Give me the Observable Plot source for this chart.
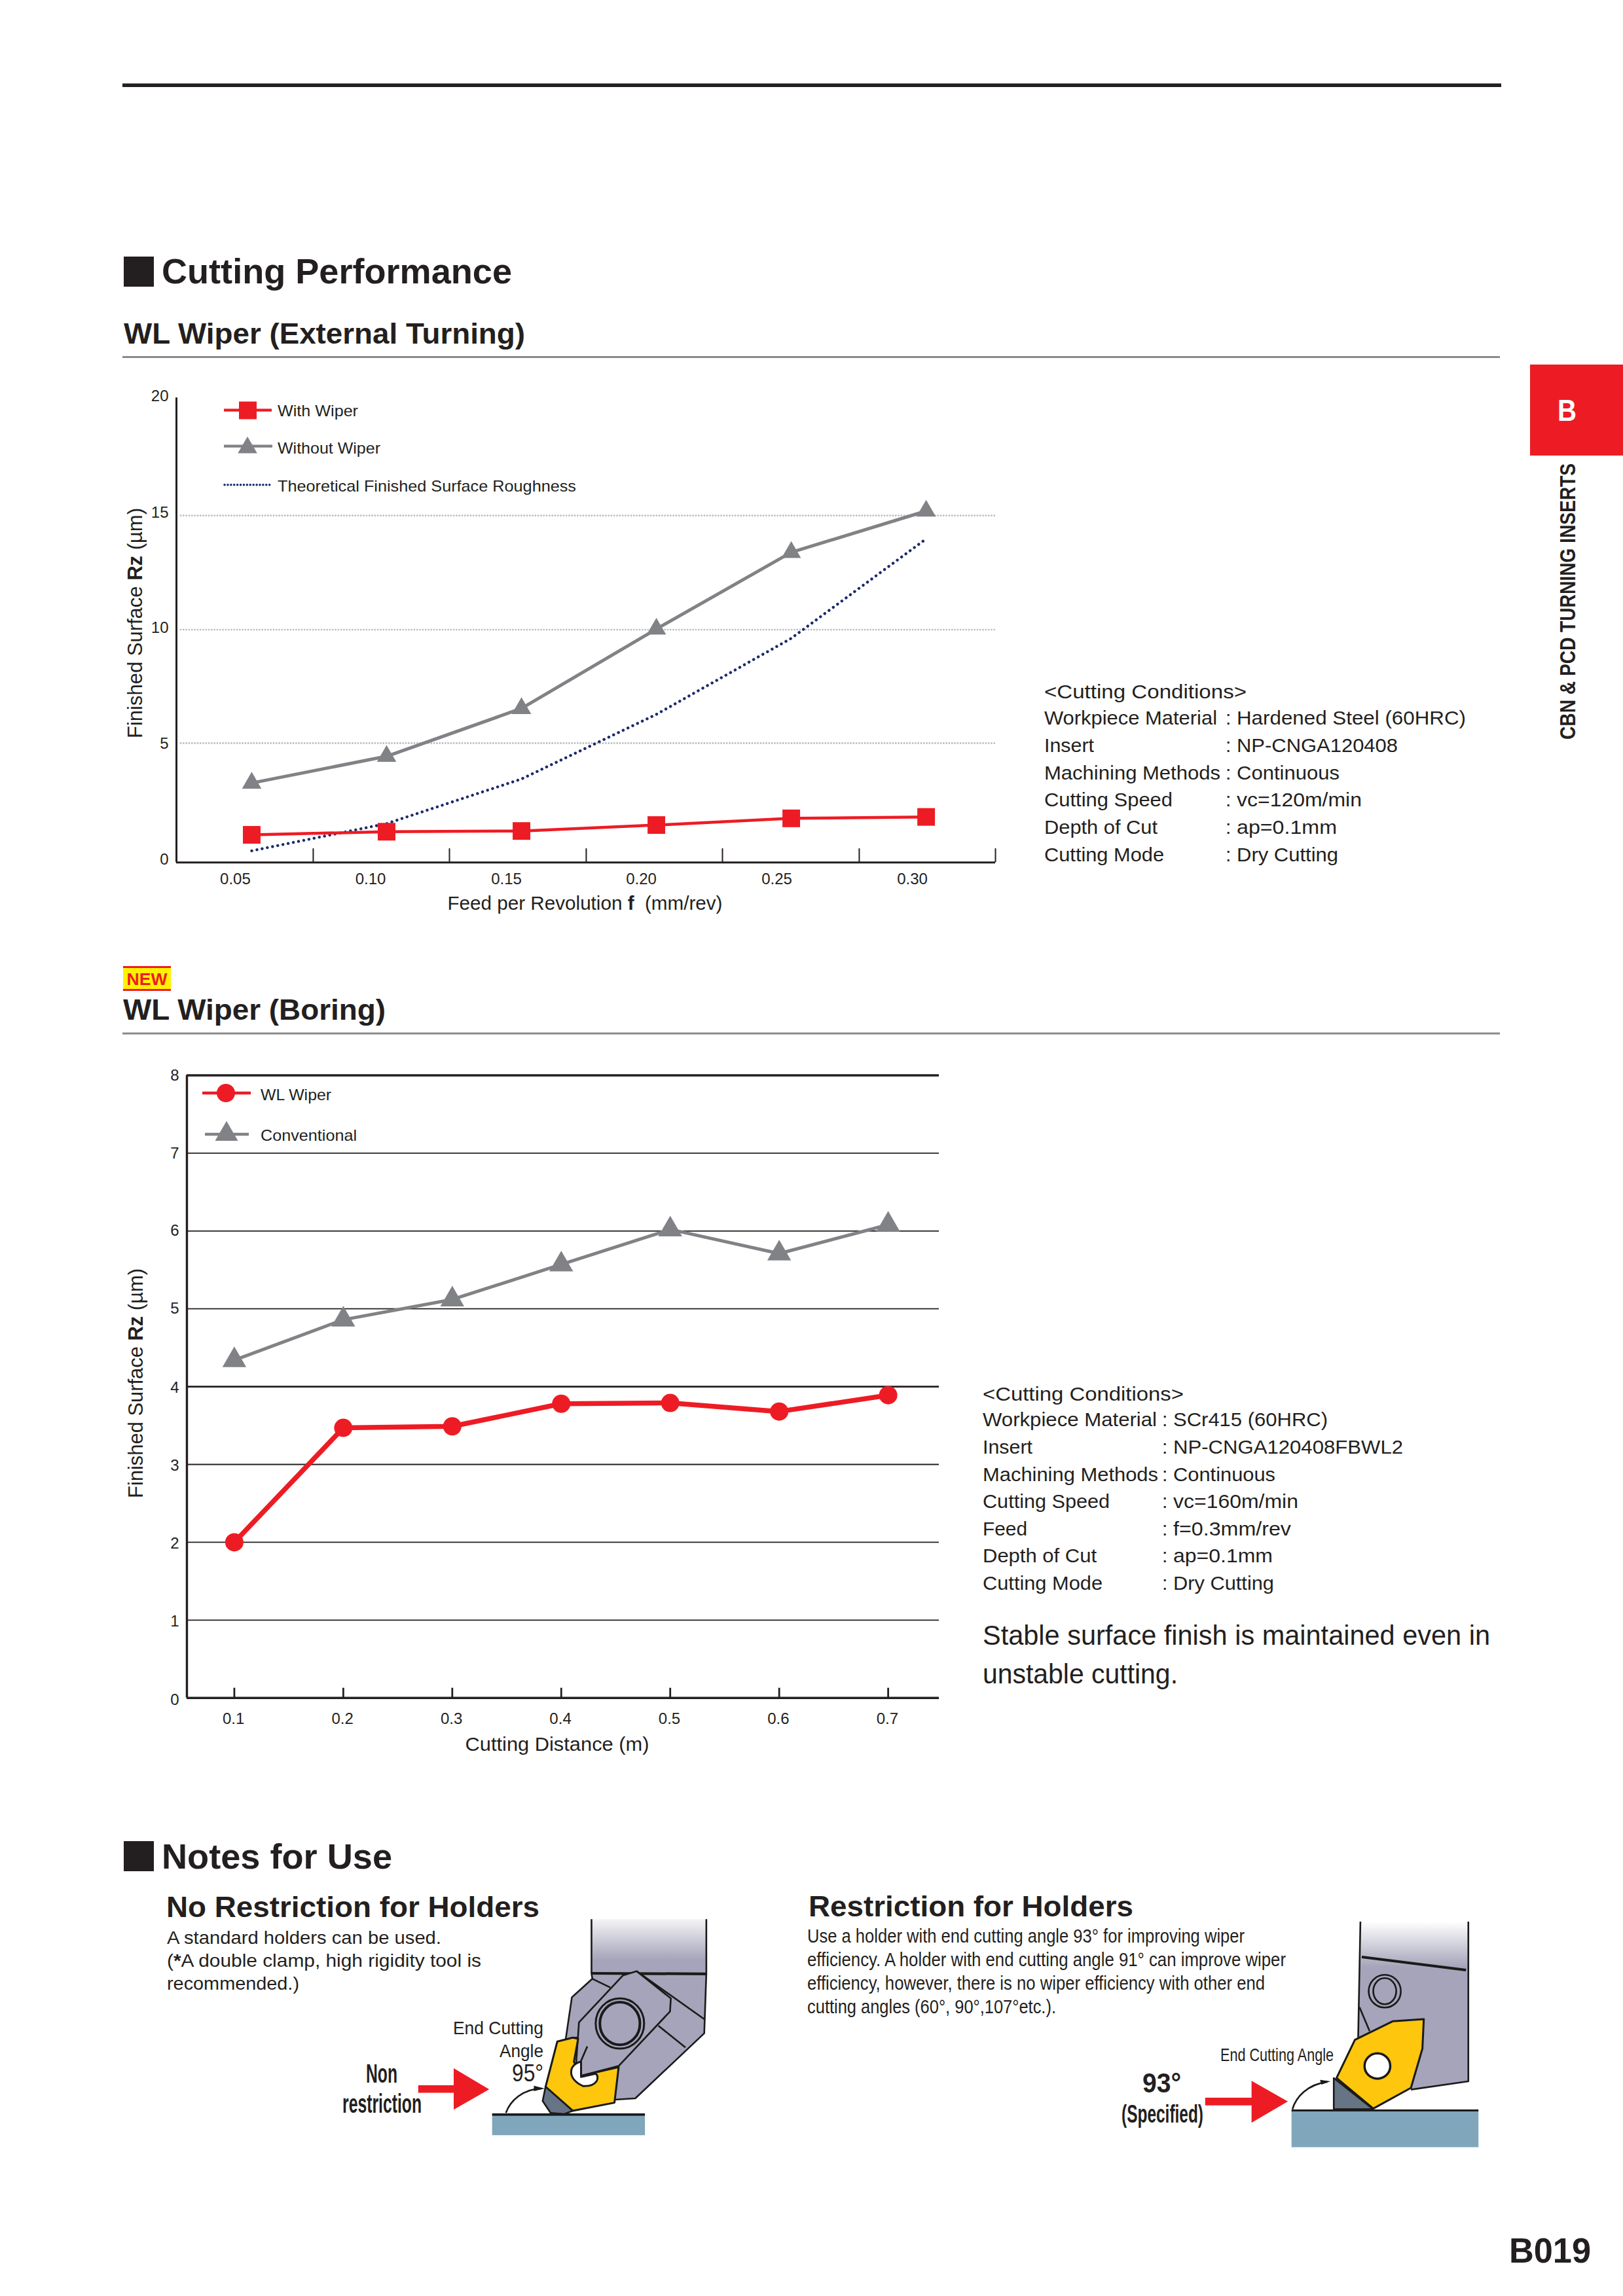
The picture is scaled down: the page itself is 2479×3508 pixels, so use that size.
<!DOCTYPE html>
<html>
<head>
<meta charset="utf-8">
<script src="https://cdn.jsdelivr.net/npm/d3@7"></script>
<script src="https://cdn.jsdelivr.net/npm/@observablehq/plot@0.6"></script>
<style>
  html,body{margin:0;padding:0;background:#fff;}
  #page{position:relative;width:2479px;height:3508px;overflow:hidden;background:#fff;font-family:"Liberation Sans",Arial,sans-serif;color:#231f20;}
  #page>div.plot-box{position:absolute;}
  #overlay{position:absolute;left:0;top:0;pointer-events:none;}
</style>
</head>
<body>
<div id="page">
  <div class="plot-box" id="c1" style="left:180px;top:560px"></div>
  <div class="plot-box" id="c2" style="left:180px;top:1600px"></div>
  <svg id="overlay" width="2479" height="3508" xmlns="http://www.w3.org/2000/svg">
    <defs>
      <linearGradient id="shank1" x1="0" y1="0" x2="0" y2="1">
        <stop offset="0" stop-color="#f4f4f6"/><stop offset="0.75" stop-color="#a5a4ba"/><stop offset="1" stop-color="#a5a4ba"/>
      </linearGradient>
      <linearGradient id="shank2" x1="0" y1="0" x2="0" y2="1">
        <stop offset="0" stop-color="#ffffff"/><stop offset="0.27" stop-color="#a5a4ba"/><stop offset="1" stop-color="#a5a4ba"/>
      </linearGradient>
      <style>
        .il *{vector-effect:non-scaling-stroke;stroke-linejoin:round}
        .body{fill:#a5a4ba;stroke:#1a1a1a;stroke-width:2.6}
        .ln{fill:none;stroke:#1a1a1a;stroke-width:2.6}
        .ins{fill:#fec60c;stroke:#1a1a1a;stroke-width:3}
        .nose{fill:#667485;stroke:#1a1a1a;stroke-width:2.6}
        .hole{fill:#fff;stroke:#1a1a1a;stroke-width:3}
      </style>
    </defs>
    <!-- illustration: no restriction -->
    <g class="il" transform="translate(170,2780) scale(.6378,.3333)">
      <rect x="1150" y="457" width="275" height="248" fill="url(#shank1)"/>
      <path class="ln" d="M1150 457V705M1425 457V705"/>
      <path class="body" d="M1150 705L1425 705L1420 980L1255 1278L1200 1285L1215 1130L1120 1000L1105 1000L1088 1010L1103 815L1152 730Z"/>
      <path class="ln" d="M1150 705L1425 708" style="stroke-width:4"/>
      <path class="body" d="M1258 695L1340 820L1338 880L1215 1130L1125 1175L1112 1150L1120 930L1225 715Z"/>
      <path class="ln" d="M1258 695L1420 915M1152 730L1195 770M1310 945L1375 1045M1140 1040L1115 1150"/>
      <ellipse class="ln" cx="1218" cy="935" rx="58" ry="115" style="stroke-width:3"/>
      <ellipse class="ln" cx="1218" cy="935" rx="48" ry="98" style="stroke-width:4"/>
      <path class="ins" d="M1068 1018L1105 1000L1118 1005L1108 1110L1125 1175L1215 1135L1205 1298L1105 1335L1040 1225Z"/>
      <path d="M1125 1110C1095 1120 1090 1190 1130 1222C1165 1225 1170 1180 1160 1165L1125 1180Z" fill="#fff" stroke="#1a1a1a" stroke-width="3"/>
      <path class="nose" d="M1040 1225L1105 1335L1085 1350L1052 1345L1033 1290Z"/>
      <rect x="912" y="1355" width="366" height="92" fill="#7fa6bb"/>
      <rect x="912" y="1347" width="366" height="11" fill="#1a1a1a"/>
      <path class="ln" d="M945 1345C955 1290 985 1235 1030 1233"/>
      <path d="M1012 1220L1038 1233L1012 1245Z" fill="#1a1a1a"/>
      <path d="M735 1218H820V1140L905 1237L820 1330V1253H735Z" fill="#ed1c24"/>
    </g>
    <!-- illustration: restriction -->
    <g class="il" transform="translate(1180,2860) scale(.7015,.3333)">
      <path d="M1280 228H1515V960L1390 998L1300 800L1275 770Z" fill="url(#shank2)"/>
      <path class="ln" d="M1280 228L1275 770M1515 228V960L1390 998"/>
      <path class="ln" d="M1283 390L1510 450" style="stroke-width:4"/>
      <ellipse class="ln" cx="1333" cy="547" rx="35" ry="75"/>
      <ellipse class="ln" cx="1333" cy="547" rx="25" ry="60"/>
      <path class="ln" d="M1278 620L1300 730"/>
      <path class="ins" d="M1350 685L1418 675L1415 810L1390 990L1308 1085L1228 945L1268 770Z"/>
      <ellipse class="hole" cx="1317" cy="890" rx="28" ry="58" style="stroke-width:3.5"/>
      <path class="nose" d="M1222 945L1308 1088H1222Z"/>
      <rect x="1130" y="1095" width="407" height="167" fill="#7fa6bb"/>
      <rect x="1130" y="1089" width="407" height="9" fill="#1a1a1a"/>
      <path class="ln" d="M1132 1088C1140 1030 1165 975 1208 962"/>
      <path d="M1192 953L1215 960L1195 975Z" fill="#1a1a1a"/>
      <path d="M942 1035H1043V958L1122 1052L1043 1150V1070H942Z" fill="#ed1c24"/>
    </g>
  </svg>
</div>
<script>
// ---------- chart 1 : WL Wiper (External Turning) ----------
const feeds = [0.05, 0.10, 0.15, 0.20, 0.25, 0.30];
const withWiper = [1.16, 1.29, 1.32, 1.57, 1.85, 1.91];
const withoutWiper = [3.33, 4.45, 6.53, 10.03, 13.39, 15.2];
const theoretical = [0.49, 1.63, 3.5, 6.27, 9.62, 13.98];
const feedSeparators = [0.0728, 0.1233, 0.1740, 0.2245, 0.2752, 0.3257];
const feedLabelShift = [-25, -24.5, -23, -23, -22, -21];
const rzTicks1 = [0, 5, 10, 15, 20];
const rzLabelShift1 = [-4.3, 1, -2.7, -4.6, -8];
const rzGrid1 = [5, 10, 15];
// the printed axis is not quite evenly spaced: where each printed tick really sits
const rzPrinted1 = [0, 5.176, 10.1, 15.05, 20];

// ---------- chart 2 : WL Wiper (Boring) ----------
const distances = [0.1, 0.2, 0.3, 0.4, 0.5, 0.6, 0.7];
const wlWiper = [2.0, 3.47, 3.49, 3.78, 3.79, 3.68, 3.89];
const conventional = [4.34, 4.86, 5.12, 5.57, 6.02, 5.71, 6.08];
const rzTicks2 = [0, 1, 2, 3, 4, 5, 6, 7, 8];
const rzLabelShift2 = [3.5, 2, 2, 1.5, 1.5, 0, 0, 0, 0];

const RED = "#ed1c24", GRAY = "#808285", NAVY = "#1b2a6b", INK = "#231f20";
const FONT = '"Liberation Sans", Arial, sans-serif';
const zip = (xs, ys) => xs.map((x, i) => ({x, y: ys[i]}));
const warp1 = d3.scaleLinear().domain(rzTicks1).range(rzPrinted1);
const zip1 = (xs, ys) => xs.map((x, i) => ({x, y: warp1(ys[i])}));

const chart1 = Plot.plot({
  width: 1360, height: 850,
  marginLeft: 89, marginRight: 20, marginTop: 52.9, marginBottom: 92.7,
  style: {background: "transparent", overflow: "visible", fontFamily: FONT, color: INK},
  x: {domain: [0.0221, 0.3257], label: null},
  y: {domain: [0, 20], label: null},
  marks: [
    Plot.ruleY(rzGrid1.map(d => warp1(d)), {x1: 0.0238, x2: 0.3257, stroke: "#bcbec0", strokeWidth: 2.8, strokeDasharray: "0.1 4.2", strokeLinecap: "round"}),
    ...rzTicks1.map((t, i) => Plot.axisY({ticks: [warp1(t)], tickFormat: () => String(t), tickSize: 0, tickPadding: 12, fontSize: 24, dy: rzLabelShift1[i], label: null, stroke: "none"})),
    ...feeds.map((t, i) => Plot.axisX({ticks: [t], tickFormat: d3.format(".2f"), tickSize: 0, tickPadding: 15.7, fontSize: 24, dx: feedLabelShift[i], label: null, stroke: "none"})),
    Plot.ruleX(feedSeparators, {y1: 0, y2: 0.6, stroke: INK, strokeWidth: 2}),
    Plot.ruleX([0.0221], {y1: 0, y2: 20.16, stroke: INK, strokeWidth: 3}),
    Plot.ruleY([0], {stroke: INK, strokeWidth: 3}),
    Plot.line(zip1(feeds, theoretical), {x: "x", y: "y", stroke: NAVY, strokeWidth: 4.4, strokeDasharray: "0.1 8", strokeLinecap: "round"}),
    Plot.line(zip1(feeds, withoutWiper), {x: "x", y: "y", stroke: GRAY, strokeWidth: 5}),
    Plot.dot(zip1(feeds, withoutWiper), {x: "x", y: "y", symbol: "triangle", r: 11, fill: GRAY, stroke: "none"}),
    Plot.line(zip1(feeds, withWiper), {x: "x", y: "y", stroke: RED, strokeWidth: 4.5}),
    Plot.dot(zip1(feeds, withWiper), {x: "x", y: "y", symbol: "square", r: 15.2, fill: RED, stroke: "none"})
  ]
});
document.getElementById("c1").append(chart1);

const chart2 = Plot.plot({
  width: 1280, height: 1100,
  marginLeft: 105, marginRight: 26, marginTop: 42.5, marginBottom: 106.3,
  style: {background: "transparent", overflow: "visible", fontFamily: FONT, color: INK},
  x: {domain: [0.0565, 0.7468], label: null},
  y: {domain: [0, 8], label: null},
  marks: [
    Plot.ruleY(rzTicks2.filter(d => d > 0 && d !== 4 && d !== 8), {stroke: INK, strokeWidth: 1.8}),
    Plot.ruleY([4], {stroke: INK, strokeWidth: 2.6}),
    Plot.ruleY([8], {stroke: INK, strokeWidth: 3.4}),
    ...rzTicks2.map((t, i) => Plot.axisY({ticks: [t], tickSize: 0, tickPadding: 12, fontSize: 24, dy: rzLabelShift2[i], label: null, stroke: "none"})),
    Plot.axisX({ticks: distances, tickFormat: d3.format(".1f"), tickSize: 0, tickPadding: 22.6, fontSize: 24, dx: -1.2, label: null, stroke: "none"}),
    Plot.ruleX(distances, {y1: 0, y2: 0.126, stroke: INK, strokeWidth: 2.8}),
    Plot.ruleX([0.0565], {y1: 0, y2: 8, stroke: INK, strokeWidth: 3.4}),
    Plot.ruleY([0], {stroke: INK, strokeWidth: 3.6}),
    Plot.line(zip(distances, conventional), {x: "x", y: "y", stroke: GRAY, strokeWidth: 5}),
    Plot.dot(zip(distances, conventional), {x: "x", y: "y", symbol: "triangle", r: 13.5, fill: GRAY, stroke: "none"}),
    Plot.line(zip(distances, wlWiper), {x: "x", y: "y", stroke: RED, strokeWidth: 7.5}),
    Plot.dot(zip(distances, wlWiper), {x: "x", y: "y", symbol: "circle", r: 14, fill: RED, stroke: "none"})
  ]
});
document.getElementById("c2").append(chart2);

// ---------- page furniture ----------
const svg = d3.select("#overlay");
function T(x, y, str, o = {}) {
  const t = svg.append("text").attr("x", x).attr("y", y)
    .attr("font-family", FONT).attr("font-size", o.size || 30)
    .attr("font-weight", o.weight || "normal").attr("fill", o.fill || INK)
    .attr("text-anchor", o.anchor || "start");
  if (o.rotate) t.attr("transform", `rotate(-90 ${x} ${y})`);
  if (o.len) t.attr("textLength", o.len).attr("lengthAdjust", "spacingAndGlyphs");
  if (Array.isArray(str)) str.forEach(([s, b]) => t.append("tspan").attr("font-weight", b ? "bold" : null).text(s));
  else t.text(str);
  return t;
}
function R(x, y, w, h, fill) { svg.append("rect").attr("x", x).attr("y", y).attr("width", w).attr("height", h).attr("fill", fill); }

// rules and headings
R(187, 127.5, 2106, 5.5, INK);
R(189, 392, 46, 46, INK);
T(247, 433, "Cutting Performance", {size: 53, weight: "bold", len: 535});
T(189, 525, "WL Wiper (External Turning)", {size: 44, weight: "bold", len: 613});
R(187, 544, 2104, 3, "#8a8a8a");

R(188, 1476, 73, 38, RED); R(188, 1479, 73, 32, "#fff200");
T(224.5, 1505, "NEW", {size: 26, weight: "bold", fill: RED, anchor: "middle", len: 62});
T(188, 1558, "WL Wiper (Boring)", {size: 44, weight: "bold", len: 401});
R(187, 1577.5, 2104, 3, "#8a8a8a");

R(189, 2813, 46, 46, INK);
T(247, 2855, "Notes for Use", {size: 53, weight: "bold", len: 352});

// side tab and page number
R(2337, 557, 142, 139, RED);
T(2379, 643, "B", {size: 46, weight: "bold", fill: "#fff", len: 29});
T(2406, 1130, "CBN & PCD TURNING INSERTS", {size: 34, weight: "bold", rotate: true, len: 422});
T(2305, 3457, "B019", {size: 54, weight: "bold", len: 125});

// axis titles
T(217, 1128, [["Finished Surface ", 0], ["Rz", 1], [" (µm)", 0]], {size: 31, rotate: true, len: 352});
T(683.5, 1390, [["Feed per Revolution ", 0], ["f", 1], ["  (mm/rev)", 0]], {size: 30, len: 420}).attr("xml:space", "preserve").style("white-space", "pre");
T(218, 2289, [["Finished Surface ", 0], ["Rz", 1], [" (µm)", 0]], {size: 31, rotate: true, len: 351});
T(710.5, 2675, "Cutting Distance (m)", {size: 30, len: 281});

// legend 1
const sym = (type, size) => d3.symbol().type(type).size(size)();
function swatch(x1, x2, cx, y, cy, color, sw, type, size) {
  svg.append("line").attr("x1", x1).attr("x2", x2).attr("y1", y).attr("y2", y).attr("stroke", color).attr("stroke-width", sw);
  svg.append("path").attr("d", sym(type, size)).attr("transform", `translate(${cx},${cy})`).attr("fill", color);
}
swatch(342, 415, 378.5, 626.7, 627, RED, 4.2, d3.symbolSquare, 729);
T(424, 636, "With Wiper", {size: 24, len: 123});
swatch(342, 416, 378, 681.7, 684, GRAY, 4.2, d3.symbolTriangle, 380);
T(424, 693, "Without Wiper", {size: 24, len: 157});
svg.append("line").attr("x1", 343).attr("x2", 415).attr("y1", 740.7).attr("y2", 740.7).attr("stroke", NAVY).attr("stroke-width", 3.5).attr("stroke-dasharray", "0.1 4.8").attr("stroke-linecap", "round");
T(424, 751, "Theoretical Finished Surface Roughness", {size: 24, len: 456});

// legend 2
swatch(309, 383, 345, 1670, 1670, RED, 4.5, d3.symbolCircle, 615);
T(398, 1681, "WL Wiper", {size: 24, len: 108});
swatch(313, 380, 346, 1733, 1733, GRAY, 4.5, d3.symbolTriangle, 530);
T(398, 1743, "Conventional", {size: 24, len: 147});

// cutting conditions
const condLabels1 = ["Workpiece Material", "Insert", "Machining Methods", "Cutting Speed", "Depth of Cut", "Cutting Mode"];
const condLabelW1 = [264, 76, 269, 196, 173, 183];
const condValues1 = ["Hardened Steel (60HRC)", "NP-CNGA120408", "Continuous", "vc=120m/min", "ap=0.1mm", "Dry Cutting"];
const condValueW1 = [350, 246, 157, 191, 153, 155];
const condY1 = [1107, 1149, 1191, 1232, 1274, 1316];
T(1595, 1067, "<Cutting Conditions>", {size: 30, len: 309});
condLabels1.forEach((s, i) => {
  T(1595, condY1[i], s, {size: 30, len: condLabelW1[i]});
  T(1872, condY1[i], ":", {size: 30});
  T(1889, condY1[i], condValues1[i], {size: 30, len: condValueW1[i]});
});

const condLabels2 = ["Workpiece Material", "Insert", "Machining Methods", "Cutting Speed", "Feed", "Depth of Cut", "Cutting Mode"];
const condLabelW2 = [266, 76, 268, 194, 68, 174, 183];
const condValues2 = ["SCr415 (60HRC)", "NP-CNGA120408FBWL2", "Continuous", "vc=160m/min", "f=0.3mm/rev", "ap=0.1mm", "Dry Cutting"];
const condValueW2 = [236, 351, 156, 191, 180, 152, 154];
const condY2 = [2179, 2221, 2263, 2304, 2346, 2387, 2429];
T(1501, 2140, "<Cutting Conditions>", {size: 30, len: 307});
condLabels2.forEach((s, i) => {
  T(1501, condY2[i], s, {size: 30, len: condLabelW2[i]});
  T(1775, condY2[i], ":", {size: 30});
  T(1792, condY2[i], condValues2[i], {size: 30, len: condValueW2[i]});
});
T(1501, 2513, "Stable surface finish is maintained even in", {size: 42, len: 775});
T(1501, 2572, "unstable cutting.", {size: 42, len: 298});

// notes
T(254, 2929, "No Restriction for Holders", {size: 44, weight: "bold", len: 570});
T(255, 2970, "A standard holders can be used.", {size: 28, len: 419});
T(255, 3005, [["(", 0], ["*", 1], ["A double clamp, high rigidity tool is", 0]], {size: 28, len: 480});
T(255, 3040, "recommended.)", {size: 28, len: 202});
T(830, 3108, "End Cutting", {size: 28, anchor: "end", len: 138});
T(830, 3143, "Angle", {size: 28, anchor: "end", len: 67});
T(830, 3180, "95°", {size: 36, anchor: "end", len: 48});
T(583, 3182, "Non", {size: 40, weight: "bold", anchor: "middle", len: 48});
T(583.5, 3228, "restriction", {size: 40, weight: "bold", anchor: "middle", len: 121});

T(1235, 2928, "Restriction for Holders", {size: 44, weight: "bold", len: 496});
T(1233, 2968, "Use a holder with end cutting angle 93° for improving wiper", {size: 29, len: 668});
T(1233, 3004, "efficiency. A holder with end cutting angle 91° can improve wiper", {size: 29, len: 731});
T(1233, 3040, "efficiency, however, there is no wiper efficiency with other end", {size: 29, len: 699});
T(1233, 3076, "cutting angles (60°, 90°,107°etc.).", {size: 29, len: 380});
T(1864, 3149, "End Cutting Angle", {size: 28, len: 173});
T(1745, 3197, "93°", {size: 42, weight: "bold", len: 59});
T(1713, 3243, "(Specified)", {size: 38, weight: "bold", len: 125});
</script>
</body>
</html>
